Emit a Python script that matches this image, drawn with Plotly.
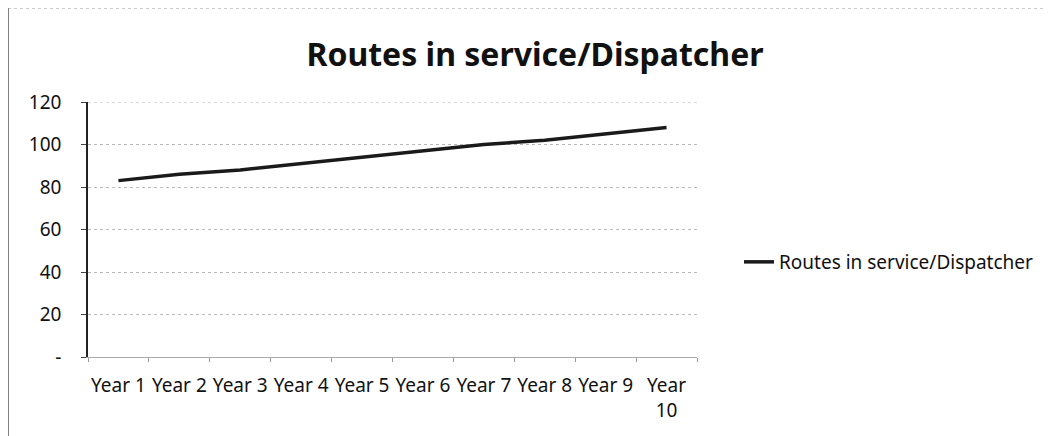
import plotly.graph_objects as go

categories = ["Year 1", "Year 2", "Year 3", "Year 4", "Year 5",
              "Year 6", "Year 7", "Year 8", "Year 9", "Year 10"]
tick_text = ["Year 1", "Year 2", "Year 3", "Year 4", "Year 5",
             "Year 6", "Year 7", "Year 8", "Year 9", "Year<br>10"]
values = [83, 86, 88, 91, 94, 97, 100, 102, 105, 108]
y_ticks = [0, 20, 40, 60, 80, 100, 120]
y_tick_text = ["-", "20", "40", "60", "80", "100", "120"]
series_name = "Routes in service/Dispatcher"

FONT = "Noto Sans"
W, H = 1044, 428          # page body has an 8px default margin
L, R, T, B = 80, 355, 94, 79
PW, PH = W - L - R, H - T - B

fig = go.Figure()
fig.add_trace(go.Scatter(
    x=categories, y=values, mode="lines", name=series_name,
    line=dict(color="#1a1a1a", width=3.5),
))

fig.update_layout(
    width=W, height=H,
    margin=dict(l=L, r=R, t=T, b=B, autoexpand=False),
    paper_bgcolor="white", plot_bgcolor="white",
    title=dict(text="<b>Routes in service/Dispatcher</b>",
               x=527 / W, xanchor="center", y=1 - 47 / H, yanchor="middle",
               font=dict(family=FONT, size=32, color="#111")),
    showlegend=True,
    legend=dict(x=(731 - L) / PW, xanchor="left", y=(H - B - 254) / PH, yanchor="middle",
                font=dict(family=FONT, size=19, color="#111"),
                bgcolor="rgba(0,0,0,0)"),
    font=dict(family=FONT, color="#111"),
)

fig.update_xaxes(
    type="category", tickmode="array", tickvals=categories, ticktext=tick_text,
    range=[-0.5, 9.5], showgrid=False, tickson="boundaries", tickangle=0,
    showline=True, linecolor="#aaa", linewidth=1,
    ticks="outside", ticklen=4, tickcolor="#999",
    tickfont=dict(family=FONT, size=19, color="#111"),
    ticklabelstandoff=11,
)
fig.update_yaxes(
    range=[0, 120], tickmode="array", tickvals=y_ticks, ticktext=y_tick_text,
    showgrid=True, gridcolor="#b8b8b8", griddash="dot", gridwidth=1,
    showline=True, linecolor="#222", linewidth=1.5,
    ticks="outside", ticklen=5, tickcolor="#444",
    tickfont=dict(family=FONT, size=19, color="#111"),
    zeroline=False, ticklabelstandoff=16,
)

# top gridline at the range maximum
fig.add_shape(type="line", xref="paper", yref="y", x0=0, x1=1, y0=120, y1=120,
              line=dict(color="#b8b8b8", width=1, dash="dot"), layer="below")

# outer chart border (left side solid, as in the scan)
fig.add_shape(type="line", xref="paper", yref="paper",
              x0=-L / PW, x1=-L / PW, y0=-B / PH, y1=(H - B) / PH,
              line=dict(color="#555", width=1.5))
fig.add_shape(type="line", xref="paper", yref="paper",
              x0=-L / PW, x1=(W - L) / PW, y0=(H - B) / PH, y1=(H - B) / PH,
              line=dict(color="#999", width=1, dash="dot"))

fig.write_html("out.html")
